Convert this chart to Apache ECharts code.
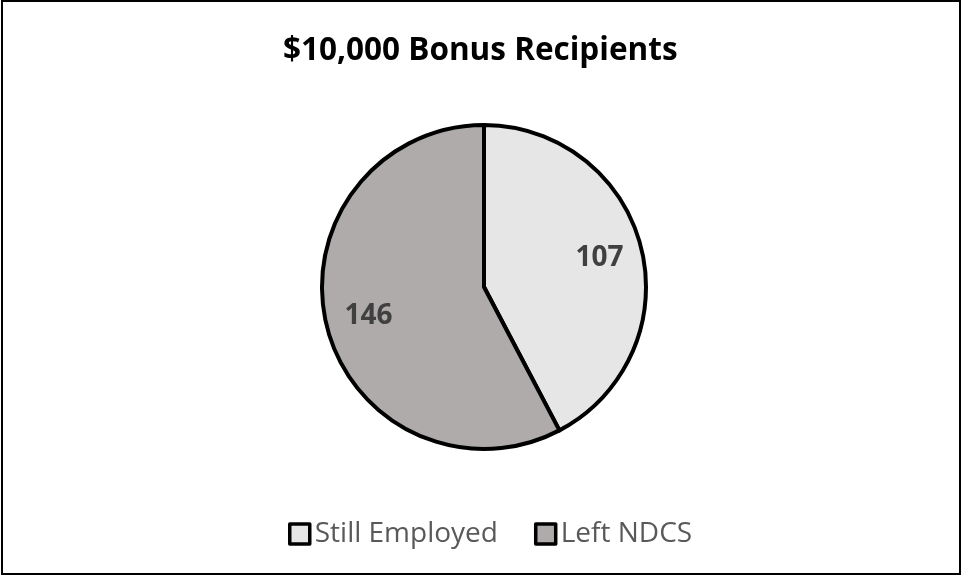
<!DOCTYPE html>
<html lang="en" style="height: 100%">
<head>
    <meta charset="UTF-8">
</head>
<body style="height: 100%; margin: 0">
  <div id="container" style="width: 963px; height: 577px"></div>

  <script type="text/javascript" src="https://fastly.jsdelivr.net/npm/echarts@6/dist/echarts.min.js"></script>
  <script type="text/javascript">
    var categories = ['Still Employed', 'Left NDCS'];
    var counts = [107, 146];
    var colors = ['#e6e6e6', '#afabab'];

    var dom = document.getElementById('container');
    var myChart = echarts.init(dom, null, { renderer: 'canvas' });
    var font = "'Open Sans', sans-serif";

    var pieData = categories.map(function (name, i) {
      return { name: name, value: counts[i], itemStyle: { color: colors[i] } };
    });

    var option = {
      backgroundColor: '#fff',
      animation: false,
      title: {
        text: '$10,000 Bonus Recipients',
        left: 278,
        top: 30,
        textStyle: { fontFamily: font, fontSize: 31.5, fontWeight: 'bold', color: '#000' }
      },
      legend: {
        data: categories.map(function (name, i) {
          return { name: name, itemStyle: { color: colors[i], borderColor: '#000', borderWidth: 3.5 } };
        }),
        bottom: 24,
        left: 283,
        itemWidth: 20,
        itemHeight: 20,
        itemGap: 36,
        icon: 'rect',
        textStyle: { fontFamily: font, fontSize: 28, color: '#595959' }
      },
      graphic: [{
        type: 'rect',
        shape: { x: 2, y: 1, width: 958, height: 573 },
        style: { fill: 'none', stroke: '#000', lineWidth: 2 },
        silent: true
      }],
      series: [
        {
          type: 'pie',
          center: [484, 287],
          radius: 162,
          startAngle: 90,
          clockwise: true,
          label: { show: false },
          labelLine: { show: false },
          itemStyle: { borderColor: '#000', borderWidth: 4 },
          emphasis: { disabled: true },
          data: pieData
        },
        {
          type: 'pie',
          center: [484, 287],
          radius: [70, 162],
          startAngle: 90,
          clockwise: true,
          silent: true,
          z: 3,
          itemStyle: { color: 'rgba(0,0,0,0)', borderWidth: 0 },
          label: {
            show: true,
            position: 'inside',
            formatter: '{c}',
            fontFamily: font,
            fontSize: 28,
            fontWeight: 'bold',
            color: '#404040'
          },
          labelLine: { show: false },
          emphasis: { disabled: true },
          data: categories.map(function (name, i) {
            return { name: name, value: counts[i] };
          })
        }
      ]
    };

    myChart.setOption(option);
    window.addEventListener('resize', myChart.resize);
  </script>
</body>
</html>
